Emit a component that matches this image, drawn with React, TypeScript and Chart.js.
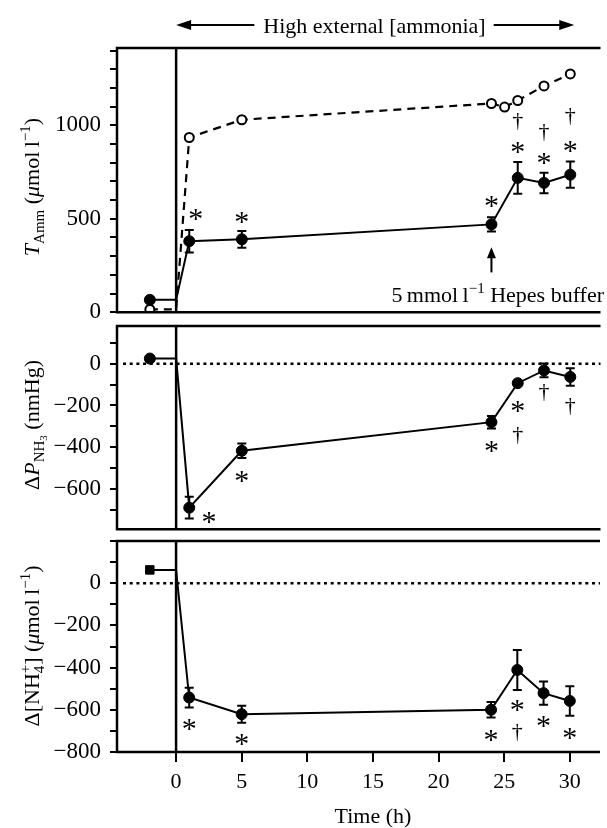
import React, { useEffect, useRef } from 'react';
import { Chart, registerables } from 'chart.js';
Chart.register(...registerables);

const SERIF = "'Liberation Serif', 'Times New Roman', Times, serif";

// ---------- data ----------
const xTickVals = [0, 5, 10, 15, 20, 25, 30];
const preTime = -2;
const times = [1, 5, 24, 26, 28, 30];

// Panel A: total ammonia
const tAmmPre = 66;
const tAmm = [380, 390, 470, 719, 692, 736];
const tAmmErr = [60, 45, 38, 85, 55, 70];
const extPre = 15;
const extTimes = [1, 5, 24, 25, 26, 28, 30];
const extAmm = [935, 1030, 1117, 1098, 1133, 1211, 1275];

// Panel B: delta P NH3
const pPre = 25;
const pNH3 = [-690, -417, -280, -93, -32, -63];
const pErr = [52, 35, 30, 10, 33, 42];

// Panel C: delta NH4+
const nPre = 63;
const nNH4 = [-542, -621, -600, -411, -521, -558];
const nErr = [47, 40, 37, 95, 55, 70];

// significance marks [time, value, symbol]
const marksA: [number, number, string][] = [
  [1.5, 523, '*'], [5, 507, '*'], [24, 594, '*'],
  [26, 882, '*'], [26, 1021, '†'], [28, 820, '*'], [28, 960, '†'], [30, 887, '*'], [30, 1045, '†'],
];
const marksB: [number, number, string][] = [
  [2.5, -738, '*'], [5, -539, '*'], [24, -395, '*'],
  [26, -206, '*'], [26, -343, '†'], [28, -137, '†'], [30, -206, '†'],
];
const marksC: [number, number, string][] = [
  [1, -672, '*'], [5, -742, '*'], [24, -724, '*'],
  [26, -580, '*'], [26, -708, '†'], [28, -656, '*'], [30, -711, '*'],
];

const yTicksA = [0, 100, 200, 300, 400, 500, 600, 700, 800, 900, 1000, 1100, 1200, 1300, 1400];
const yLabelsA = [0, 500, 1000];
const yTicksB = [100, 0, -100, -200, -300, -400, -500, -600, -700];
const yLabelsB = [0, -200, -400, -600];
const yTicksC = [200, 100, 0, -100, -200, -300, -400, -500, -600, -700, -800];
const yLabelsC = [0, -200, -400, -600, -800];

const headerText = 'High external [ammonia]';
const xTitle = 'Time (h)';

// ---------- rich text ----------
type Seg = { t: string; it?: boolean; sz?: number; dy?: number; stack?: boolean };
const BASE = 22;
const SUB = 15;

const titleA: Seg[] = [
  { t: 'T', it: true }, { t: 'Amm', sz: SUB, dy: 5 }, { t: ' (' }, { t: 'μ', it: true },
  { t: 'mol\u2009l' }, { t: '−1', sz: SUB, dy: -9 }, { t: ')' },
];
const titleB: Seg[] = [
  { t: 'Δ' }, { t: 'P', it: true }, { t: 'NH', sz: SUB, dy: 5 }, { t: '3', sz: 11, dy: 8 }, { t: ' (nmHg)' },
];
const titleC: Seg[] = [
  { t: 'Δ[NH' }, { t: '4', sz: SUB, dy: 5, stack: true }, { t: '+', sz: SUB, dy: -9 }, { t: '] (' },
  { t: 'μ', it: true }, { t: 'mol\u2009l' }, { t: '−1', sz: SUB, dy: -9 }, { t: ')' },
];
const hepesText: Seg[] = [
  { t: '5\u2009mmol\u2009l' }, { t: '−1', sz: SUB, dy: -9 }, { t: ' Hepes buffer' },
];

function fontOf(s: Seg) {
  return `${s.it ? 'italic ' : ''}${s.sz || BASE}px ${SERIF}`;
}
function richWidth(ctx: CanvasRenderingContext2D, segs: Seg[]) {
  let w = 0;
  let pending = 0;
  for (const s of segs) {
    ctx.font = fontOf(s);
    const sw = ctx.measureText(s.t).width;
    if (s.stack) { pending = sw; continue; }
    w += Math.max(sw, pending);
    pending = 0;
  }
  return w;
}
function drawRich(ctx: CanvasRenderingContext2D, segs: Seg[], x0: number, y0: number) {
  let x = x0;
  let pending = 0;
  ctx.textBaseline = 'alphabetic';
  ctx.textAlign = 'left';
  for (const s of segs) {
    ctx.font = fontOf(s);
    const sw = ctx.measureText(s.t).width;
    ctx.fillText(s.t, x, y0 + (s.dy || 0));
    if (s.stack) { pending = sw; continue; }
    x += Math.max(sw, pending);
    pending = 0;
  }
}
function drawGlyph(ctx: CanvasRenderingContext2D, g: string, px: number, py: number, size: number) {
  ctx.font = `${size}px ${SERIF}`;
  ctx.textAlign = 'center';
  ctx.textBaseline = 'alphabetic';
  const m = ctx.measureText(g);
  const asc = m.actualBoundingBoxAscent;
  const desc = m.actualBoundingBoxDescent;
  ctx.fillText(g, px, py + (asc - desc) / 2);
}

// ---------- panels ----------
interface Panel {
  top: number; height: number; padTop: number; padBottom: number;
  yMin: number; yMax: number; yTickVals: number[]; yLabelVals: number[];
  datasets: any[]; errors: [number, number, number][]; marks: [number, number, string][];
  zeroLine: boolean; showX: boolean; title: Seg[]; titleCy: number; extra?: (c: any) => void;
}

const X_MIN = -4.5;
const X_MAX = 32.3;

function seriesPts(pre: number, vals: number[], ts: number[]) {
  return [{ x: preTime, y: pre }, { x: 0, y: pre }, ...ts.map((t, i) => ({ x: t, y: vals[i] }))];
}
function filledSet(pre: number, vals: number[], preStyle = 'circle', preR = 5.5) {
  return {
    data: seriesPts(pre, vals, times),
    borderColor: '#000', borderWidth: 2,
    pointRadius: [preR, 0, ...times.map(() => 5.5)],
    pointStyle: [preStyle, 'circle', ...times.map(() => 'circle')],
    pointBackgroundColor: '#000', pointBorderColor: '#000', pointBorderWidth: 1,
    tension: 0,
  };
}

function makeDecor(p: Panel) {
  return {
    id: 'decor',
    beforeDatasetsDraw(chart: any) {
      const { ctx, chartArea: a, scales } = chart;
      const x = scales.x, y = scales.y;
      ctx.save();
      if (p.zeroLine) {
        ctx.strokeStyle = '#000';
        ctx.lineWidth = 2.5;
        ctx.setLineDash([3, 3.7]);
        const yy = y.getPixelForValue(0);
        ctx.beginPath(); ctx.moveTo(a.left + 6, yy); ctx.lineTo(a.right, yy); ctx.stroke();
        ctx.setLineDash([]);
      }
      const x0 = x.getPixelForValue(0);
      ctx.strokeStyle = '#000';
      ctx.lineWidth = 2.5;
      ctx.beginPath(); ctx.moveTo(x0, a.top); ctx.lineTo(x0, a.bottom); ctx.stroke();
      ctx.lineWidth = 2;
      for (const [t, v, e] of p.errors) {
        const px = x.getPixelForValue(t);
        const y1 = y.getPixelForValue(v + e);
        const y2 = y.getPixelForValue(v - e);
        ctx.beginPath();
        ctx.moveTo(px, y1); ctx.lineTo(px, y2);
        ctx.moveTo(px - 4.5, y1); ctx.lineTo(px + 4.5, y1);
        ctx.moveTo(px - 4.5, y2); ctx.lineTo(px + 4.5, y2);
        ctx.stroke();
      }
      ctx.restore();
    },
    afterDraw(chart: any) {
      const { ctx, chartArea: a, scales } = chart;
      const x = scales.x, y = scales.y;
      ctx.save();
      ctx.fillStyle = '#000';
      ctx.strokeStyle = '#000';
      ctx.lineWidth = 2.5;
      ctx.beginPath();
      ctx.moveTo(a.left, a.top); ctx.lineTo(a.right, a.top);
      ctx.moveTo(a.left, a.top - 1.25); ctx.lineTo(a.left, a.bottom + 1.25);
      ctx.moveTo(a.left - 1, a.bottom); ctx.lineTo(a.right, a.bottom);
      ctx.stroke();
      for (const [t, v, g] of p.marks) {
        const px = x.getPixelForValue(t);
        const py = y.getPixelForValue(v);
        if (g === '*') drawGlyph(ctx, g, px, py, 30);
        else drawGlyph(ctx, g, px, py, 22);
      }
      // y-axis title
      const w = richWidth(ctx, p.title);
      ctx.save();
      ctx.translate(39, p.titleCy - p.top);
      ctx.rotate(-Math.PI / 2);
      drawRich(ctx, p.title, -w / 2, 0);
      ctx.restore();
      if (p.extra) p.extra(chart);
      ctx.restore();
    },
  };
}

function arrowHead(ctx: CanvasRenderingContext2D, tx: number, ty: number, dx: number, dy: number, len: number, half: number) {
  const bx = tx - dx * len, by = ty - dy * len;
  ctx.beginPath();
  ctx.moveTo(tx, ty);
  ctx.lineTo(bx - dy * half, by + dx * half);
  ctx.lineTo(bx + dy * half, by - dx * half);
  ctx.closePath();
  ctx.fill();
}

const extraA = (chart: any) => {
  const { ctx, scales } = chart;
  const x = scales.x, y = scales.y;
  // header
  ctx.font = `22px ${SERIF}`;
  ctx.textAlign = 'center';
  ctx.textBaseline = 'alphabetic';
  const cx = x.getPixelForValue(15.1);
  const tw = ctx.measureText(headerText).width;
  ctx.fillText(headerText, cx, 33);
  const left = x.getPixelForValue(0), right = x.getPixelForValue(30.3);
  const hy = 25;
  ctx.lineWidth = 2;
  ctx.beginPath();
  ctx.moveTo(left + 10, hy); ctx.lineTo(cx - tw / 2 - 9, hy);
  ctx.moveTo(cx + tw / 2 + 8, hy); ctx.lineTo(right - 10, hy);
  ctx.stroke();
  arrowHead(ctx, left, hy, -1, 0, 15, 5);
  arrowHead(ctx, right, hy, 1, 0, 15, 5);
  // Hepes arrow
  const ax = x.getPixelForValue(24);
  const yTail = y.getPixelForValue(213), yTip = y.getPixelForValue(347);
  ctx.beginPath(); ctx.moveTo(ax, yTail); ctx.lineTo(ax, yTip + 8); ctx.stroke();
  arrowHead(ctx, ax, yTip, 0, -1, 11, 4.5);
  const hw = richWidth(ctx, hepesText);
  drawRich(ctx, hepesText, 604 - hw, 302);
};

const extraC = (chart: any) => {
  const { ctx, scales } = chart;
  ctx.font = `22px ${SERIF}`;
  ctx.textAlign = 'center';
  ctx.textBaseline = 'alphabetic';
  ctx.fillText(xTitle, scales.x.getPixelForValue(15), 823 - 515);
};

const panels: Panel[] = [
  {
    top: 0, height: 335, padTop: 48, padBottom: 22,
    yMin: 0, yMax: 1414, yTickVals: yTicksA, yLabelVals: yLabelsA,
    datasets: [
      {
        data: [{ x: preTime, y: extPre }, { x: 0, y: extPre }, ...extTimes.map((t, i) => ({ x: t, y: extAmm[i] }))],
        borderColor: '#000', borderWidth: 2.2, borderDash: [8, 6],
        pointRadius: [4.5, 0, ...extTimes.map(() => 4.5)],
        pointBackgroundColor: '#fff', pointBorderColor: '#000', pointBorderWidth: 2,
        tension: 0,
      },
      filledSet(tAmmPre, tAmm),
    ],
    errors: times.map((t, i) => [t, tAmm[i], tAmmErr[i]] as [number, number, number]),
    marks: marksA, zeroLine: false, showX: false, title: titleA, titleCy: 187, extra: extraA,
  },
  {
    top: 300, height: 252, padTop: 26, padBottom: 20,
    yMin: -793, yMax: 181, yTickVals: yTicksB, yLabelVals: yLabelsB,
    datasets: [filledSet(pPre, pNH3)],
    errors: times.map((t, i) => [t, pNH3[i], pErr[i]] as [number, number, number]),
    marks: marksB, zeroLine: true, showX: false, title: titleB, titleCy: 425,
  },
  {
    top: 515, height: 313, padTop: 26, padBottom: 0,
    yMin: -800, yMax: 200, yTickVals: yTicksC, yLabelVals: yLabelsC,
    datasets: [filledSet(nPre, nNH4, 'rect', 6)],
    errors: times.map((t, i) => [t, nNH4[i], nErr[i]] as [number, number, number]),
    marks: marksC, zeroLine: true, showX: true, title: titleC, titleCy: 646, extra: extraC,
  },
];

function fmt(v: number) {
  return String(v).replace('-', '−');
}

function PanelChart({ p }: { p: Panel }) {
  const ref = useRef<HTMLCanvasElement>(null);
  useEffect(() => {
    if (!ref.current) return;
    const chart = new Chart(ref.current, {
      type: 'line',
      data: { datasets: p.datasets },
      options: {
        animation: false,
        responsive: false,
        maintainAspectRatio: false,
        devicePixelRatio: 1,
        layout: { padding: { top: p.padTop, bottom: p.padBottom, left: 0, right: 0 } },
        plugins: { legend: { display: false }, tooltip: { enabled: false } },
        scales: {
          x: {
            type: 'linear', min: X_MIN, max: X_MAX,
            display: p.showX,
            afterBuildTicks: (axis: any) => { axis.ticks = xTickVals.map((v) => ({ value: v })); },
            afterFit: (axis: any) => { axis.height = p.showX ? 76 : 0; },
            border: { display: false },
            grid: { drawOnChartArea: false, drawTicks: true, tickLength: 10, tickColor: '#000', tickWidth: 2, color: '#000', lineWidth: 2 },
            ticks: { color: '#000', font: { family: SERIF, size: 22 }, padding: 7, autoSkip: false, maxRotation: 0, callback: (v: any) => String(v) },
          },
          y: {
            type: 'linear', min: p.yMin, max: p.yMax,
            afterBuildTicks: (axis: any) => { axis.ticks = p.yTickVals.map((v) => ({ value: v })); },
            afterFit: (axis: any) => { axis.width = 117; },
            border: { display: false },
            grid: { drawOnChartArea: false, drawTicks: true, tickLength: 7, tickColor: '#000', tickWidth: 2, color: '#000', lineWidth: 2 },
            ticks: {
              color: '#000', font: { family: SERIF, size: 23 }, padding: 9, autoSkip: false,
              callback: (v: any) => (p.yLabelVals.includes(Number(v)) ? fmt(Number(v)) : ''),
            },
          },
        },
      } as any,
      plugins: [makeDecor(p)],
    });
    return () => chart.destroy();
  }, [p]);
  return (
    <canvas
      ref={ref}
      width={607}
      height={p.height}
      style={{ position: 'absolute', left: 0, top: p.top, width: 607, height: p.height }}
    />
  );
}

export default function App() {
  return (
    <div style={{ position: 'absolute', left: 0, top: 0, width: 607, height: 828, background: '#fff', overflow: 'hidden' }}>
      {panels.map((p, i) => <PanelChart key={i} p={p} />)}
    </div>
  );
}
